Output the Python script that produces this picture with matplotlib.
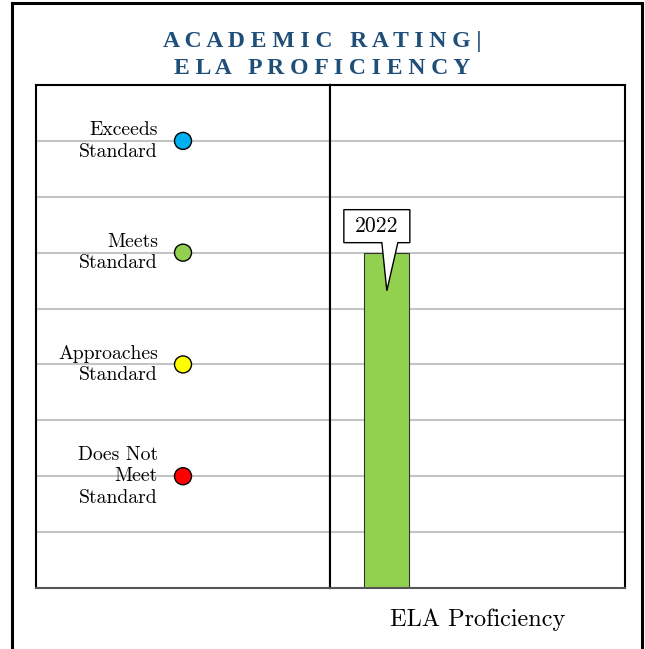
import matplotlib.pyplot as plt
from matplotlib.patches import Polygon, Rectangle
from matplotlib.transforms import IdentityTransform, ScaledTranslation

# rating scale shown on the left panel
levels = [1, 2, 3, 4]
level_labels = ["Does Not\nMeet\nStandard", "Approaches\nStandard", "Meets\nStandard", "Exceeds\nStandard"]
level_colors = ["#ff0000", "#ffff00", "#92d050", "#00b0f0"]

# measure on the right panel
measures = ["ELA Proficiency"]
years = ["2022"]
ratings = [3]

title_lines = ["ACADEMIC RATING|", "ELA PROFICIENCY"]

TITLE_COLOR = "#1f4e79"
GRID_COLOR = "#c4c4c4"
SERIF = "cmr10"


def spaced(s):
    return " ".join(s)


fig = plt.figure(figsize=(6.45, 6.49), dpi=100)
W, H = 645, 649

# outer frame
fig.patches.append(Rectangle((12 / W, -0.05), 630 / W, 1.05 - 3 / H, transform=fig.transFigure,
                             fill=False, edgecolor="black", linewidth=2.2))

# title
fig.text(0.5, 1 - 41 / H, spaced(title_lines[0]).replace("G |", "G |"), ha="center", va="center",
         fontsize=17, fontweight="bold", family="Liberation Serif", color=TITLE_COLOR)
fig.text(0.5, 1 - 68 / H, spaced(title_lines[1]), ha="center", va="center",
         fontsize=17, fontweight="bold", family="Liberation Serif", color=TITLE_COLOR)

bottom = 1 - 588 / H
height = (588 - 85) / H
ax_l = fig.add_axes([36 / W, bottom, 294 / W, height])
ax_r = fig.add_axes([330 / W, bottom, 295 / W, height])

grid_vals = [i * 0.5 for i in range(1, 10)]
for ax in (ax_l, ax_r):
    ax.set_ylim(0, 4.5)
    for g in grid_vals:
        ax.axhline(g, color=GRID_COLOR, linewidth=1.5, zorder=0)
    ax.set_yticks([])
    ax.tick_params(length=0)
    for sp in ax.spines.values():
        sp.set_linewidth(1.5)
    ax.spines["bottom"].set_color("#555555")

# left panel: legend of rating levels
ax_l.set_xlim(0, 1)
ax_l.set_xticks([])
ax_l.scatter([0.5] * len(levels), levels, s=150, c=level_colors, edgecolors="black",
             linewidths=1, zorder=3)
for lv, lab in zip(levels, level_labels):
    ax_l.annotate(lab, (0.5, lv), xytext=(-18, 0), textcoords="offset points",
                  ha="right", va="center", multialignment="right",
                  fontsize=14.2, family=SERIF, linespacing=1.25)

# right panel: bar
ax_r.set_xlim(-0.5, 0.5)
bar_x = -0.309
bar_w = 0.153
ax_r.bar([bar_x] * len(ratings), ratings, width=bar_w, color="#92d050",
         edgecolor="#333333", linewidth=0.8, zorder=2)
ax_r.set_xticks([0])
ax_r.set_xticklabels(measures, fontsize=17.5, family=SERIF)
ax_r.tick_params(axis="x", pad=15)

# callout with year label
for yr, val in zip(years, ratings):
    trans = IdentityTransform() + ScaledTranslation(bar_x, val, ax_r.transData)
    verts = [(-42.5, 10), (-4.5, 10), (0.5, -38), (11.5, 10), (23.5, 10), (23.5, 43), (-42.5, 43)]
    ax_r.add_patch(Polygon(verts, closed=True, transform=trans, facecolor="white",
                           edgecolor="black", linewidth=1, zorder=4, clip_on=False))
    ax_r.text(-9.5, 26, yr, transform=trans, ha="center", va="center",
              fontsize=15.5, family=SERIF, zorder=5)

fig.savefig("out.png", dpi=100)
